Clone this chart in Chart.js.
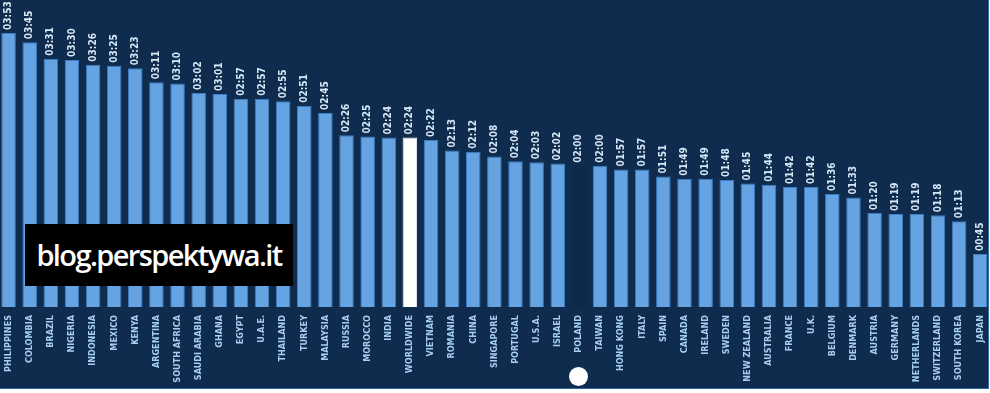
<!DOCTYPE html>
<html>
<head>
<meta charset="utf-8">
<script src="https://cdn.jsdelivr.net/npm/chart.js@4"></script>
<style>
  html, body { margin: 0; padding: 0; background: #ffffff; }
  #frame {
    position: absolute; left: 0; top: 0;
    width: 988px; height: 388px;
    background: #0f2c4e;
    overflow: hidden;
    border-right: 1px solid #2f6aa8;
    border-bottom: 1px solid #2f6aa8;
  }
  #wrap { position: absolute; left: -2px; top: 0; width: 993px; height: 388px; }
  #stamp {
    position: absolute; left: 25px; top: 224px; width: 268px; height: 62px;
    background: #000; color: #fff;
    font-family: "Open Sans", sans-serif; font-weight: 600; font-size: 29px;
    letter-spacing: -1.6px; line-height: 62px; text-align: center;
  }
  #dot {
    position: absolute; left: 569px; top: 367px; width: 19px; height: 19px;
    border-radius: 50%; background: #fff;
  }
</style>
</head>
<body>
<div id="frame">
  <div id="wrap"><canvas id="chart"></canvas></div>
  <div id="stamp">blog.perspektywa.it</div>
  <div id="dot"></div>
</div>
<script>
// Countries, left to right
const countries = ['PHILIPPINES', 'COLOMBIA', 'BRAZIL', 'NIGERIA', 'INDONESIA', 'MEXICO', 'KENYA',
    'ARGENTINA', 'SOUTH AFRICA', 'SAUDI ARABIA', 'GHANA', 'EGYPT', 'U.A.E.', 'THAILAND', 'TURKEY',
    'MALAYSIA', 'RUSSIA', 'MOROCCO', 'INDIA', 'WORLDWIDE', 'VIETNAM', 'ROMANIA', 'CHINA', 'SINGAPORE',
    'PORTUGAL', 'U.S.A.', 'ISRAEL', 'POLAND', 'TAIWAN', 'HONG KONG', 'ITALY', 'SPAIN', 'CANADA',
    'IRELAND', 'SWEDEN', 'NEW ZEALAND', 'AUSTRALIA', 'FRANCE', 'U.K.', 'BELGIUM', 'DENMARK',
    'AUSTRIA', 'GERMANY', 'NETHERLANDS', 'SWITZERLAND', 'SOUTH KOREA', 'JAPAN'];

// Daily time (hh:mm) as printed above each bar
const timeLabels = ['03:53', '03:45', '03:31', '03:30', '03:26', '03:25', '03:23',
    '03:11', '03:10', '03:02', '03:01', '02:57', '02:57', '02:55', '02:51',
    '02:45', '02:26', '02:25', '02:24', '02:24', '02:22', '02:13', '02:12', '02:08',
    '02:04', '02:03', '02:02', '02:00', '02:00', '01:57', '01:57', '01:51', '01:49',
    '01:49', '01:48', '01:45', '01:44', '01:42', '01:42', '01:36', '01:33',
    '01:20', '01:19', '01:19', '01:18', '01:13', '00:45'];

// minutes, read from the printed times
const minutes = timeLabels.map(t => {
    const p = t.split(':');
    return parseInt(p[0], 10) * 60 + parseInt(p[1], 10);
});

const barFill = '#65a3e3';
const barEdge = '#3c7ec6';

const fills = countries.map(c => c === 'WORLDWIDE' ? '#ffffff' : (c === 'POLAND' ? '#0e2a49' : barFill));
const edges = countries.map(c => c === 'WORLDWIDE' ? '#ffffff' : (c === 'POLAND' ? '#0e2a49' : barEdge));

// rotated time labels above the bars
const timeLabelPlugin = {
    id: 'timeLabels',
    afterDatasetsDraw(chart) {
        const ctx = chart.ctx;
        const meta = chart.getDatasetMeta(0);
        ctx.save();
        ctx.fillStyle = '#d6e7f8';
        ctx.font = 'bold 10px "DejaVu Sans Condensed", "Liberation Sans Narrow", sans-serif';
        ctx.textAlign = 'left';
        ctx.textBaseline = 'middle';
        meta.data.forEach((bar, i) => {
            ctx.save();
            ctx.translate(bar.x, bar.y - 3);
            ctx.rotate(-Math.PI / 2);
            ctx.fillText(timeLabels[i], 0, 0);
            ctx.restore();
        });
        ctx.restore();
    }
};

const ctx = document.getElementById('chart').getContext('2d');
const chart = new Chart(ctx, {
    type: 'bar',
    data: {
        labels: countries,
        datasets: [{
            data: minutes,
            backgroundColor: fills,
            borderColor: edges,
            borderWidth: 1,
            barPercentage: 0.69,
            categoryPercentage: 1.0
        }]
    },
    options: {
        responsive: true,
        maintainAspectRatio: false,
        animation: false,
        layout: { padding: 0 },
        plugins: {
            legend: { display: false },
            tooltip: { enabled: false }
        },
        scales: {
            x: {
                grid: { display: false },
                border: { display: false },
                ticks: {
                    autoSkip: false,
                    minRotation: 90,
                    maxRotation: 90,
                    padding: 0,
                    color: '#a8cdf2',
                    font: { family: '"DejaVu Sans Condensed", "Liberation Sans Narrow", sans-serif', size: 9, weight: 'bold' }
                },
                afterFit: function(scale) { scale.height = 81; }
            },
            y: {
                display: false,
                min: 0,
                max: 261
            }
        }
    },
    plugins: [timeLabelPlugin]
});
</script>
</body>
</html>
